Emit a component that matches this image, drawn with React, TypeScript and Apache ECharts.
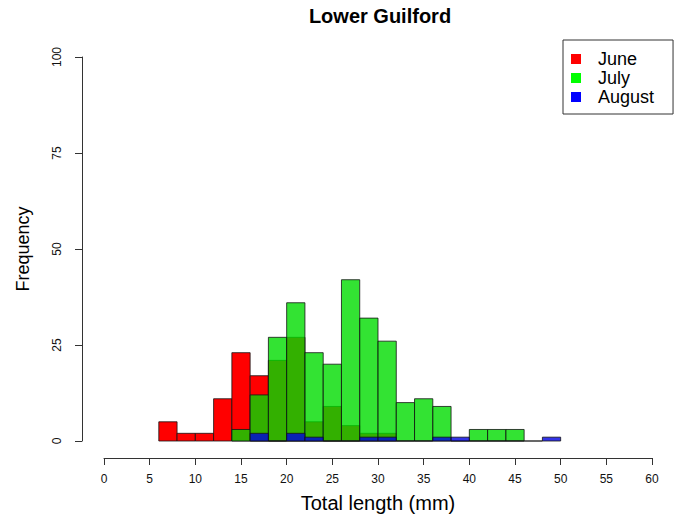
import React, { useEffect, useRef } from "react";
import * as echarts from "echarts";

const binStarts = [6, 8, 10, 12, 14, 16, 18, 20, 22, 24, 26, 28, 30, 32, 34, 36, 38, 40, 42, 44, 46, 48];
const binWidth = 2;
const juneCounts = [5, 2, 2, 11, 23, 17, 21, 27, 5, 9, 4, 2, 2, null, null, null, null, null, null, null, null, null];
const julyCounts = [null, null, null, null, 3, 12, 27, 36, 23, 20, 42, 32, 26, 10, 11, 9, 0, 3, 3, 3, null, null];
const augustCounts = [null, null, null, null, null, 2, 0, 2, 1, 0, 0, 1, 1, 0, 0, 1, 1, 0, 0, 0, 0, 1];
const xTicks = [0, 5, 10, 15, 20, 25, 30, 35, 40, 45, 50, 55, 60];
const yTicks = [0, 25, 50, 75, 100];

const FONT = "Arial, 'Liberation Sans', Helvetica, sans-serif";

function histData(counts: (number | null)[]) {
  const out: number[][] = [];
  counts.forEach((c, i) => {
    if (c !== null) out.push([binStarts[i], binStarts[i] + binWidth, c]);
  });
  return out;
}

function makeSeries(name: string, counts: (number | null)[], fill: string) {
  return {
    name,
    type: "custom",
    data: histData(counts),
    encode: { x: [0, 1], y: 2 },
    itemStyle: { color: fill },
    renderItem: (params: any, api: any) => {
      const x0 = api.value(0);
      const x1 = api.value(1);
      const y = api.value(2);
      const p0 = api.coord([x0, y]);
      const p1 = api.coord([x1, 0]);
      return {
        type: "rect",
        shape: { x: p0[0], y: p0[1], width: p1[0] - p0[0], height: p1[1] - p0[1] },
        style: { fill, stroke: "rgba(20,20,20,0.8)", lineWidth: 1 },
      };
    },
  };
}

export default function App() {
  const ref = useRef<HTMLDivElement>(null);
  useEffect(() => {
    document.body.style.margin = "0";
    if (!ref.current) return;
    const chart = echarts.init(ref.current, null, { renderer: "svg" });
    chart.setOption({
      animation: false,
      backgroundColor: "#fff",
      title: {
        text: "Lower Guilford",
        left: 375,
        textAlign: "center",
        top: 1,
        textStyle: { fontFamily: FONT, fontWeight: "bold", fontSize: 20, color: "#000" },
      },
      legend: {
        orient: "vertical",
        left: 563,
        top: 40,
        borderColor: "#333",
        borderWidth: 1,
        padding: [10, 19, 8, 8],
        itemGap: 1,
        itemWidth: 10,
        itemHeight: 10,
        icon: "rect",
        textStyle: { fontFamily: FONT, fontSize: 18, lineHeight: 18, color: "#000", padding: [0, 0, 0, 12] },
        data: [
          { name: "June", itemStyle: { color: "#ff0000", borderWidth: 0 } },
          { name: "July", itemStyle: { color: "#00ff00", borderWidth: 0 } },
          { name: "August", itemStyle: { color: "#0000ff", borderWidth: 0 } },
        ],
      },
      grid: { left: 104, right: 23, top: 57, bottom: 69, containLabel: false },
      xAxis: {
        type: "value",
        min: 0,
        max: 60,
        interval: 5,
        offset: 17,
        name: "Total length (mm)",
        nameLocation: "middle",
        nameGap: 35,
        nameTextStyle: { fontFamily: FONT, fontSize: 20, color: "#000" },
        axisLine: { show: true, onZero: false, lineStyle: { color: "#333", width: 1 } },
        axisTick: { show: true, length: 7, lineStyle: { color: "#333" } },
        axisLabel: {
          fontFamily: FONT,
          fontSize: 12,
          color: "#111",
          margin: 15,
          formatter: (v: number) => (xTicks.includes(v) ? String(v) : ""),
        },
        splitLine: { show: false },
      },
      yAxis: {
        type: "value",
        min: 0,
        max: 100,
        interval: 25,
        offset: 22,
        name: "Frequency",
        nameLocation: "middle",
        nameGap: 50,
        nameTextStyle: { fontFamily: FONT, fontSize: 18, color: "#000" },
        axisLine: { show: true, onZero: false, lineStyle: { color: "#333", width: 1 } },
        axisTick: { show: true, length: 7, lineStyle: { color: "#333" } },
        axisLabel: {
          fontFamily: FONT,
          fontSize: 12,
          color: "#111",
          rotate: 90,
          margin: 19,
          formatter: (v: number) => (yTicks.includes(v) ? String(v) : ""),
        },
        splitLine: { show: false },
      },
      series: [
        makeSeries("June", juneCounts, "rgb(255,0,0)"),
        makeSeries("July", julyCounts, "rgba(0,220,0,0.8)"),
        makeSeries("August", augustCounts, "rgba(0,0,225,0.8)"),
      ],
    });
    return () => chart.dispose();
  }, []);
  return <div ref={ref} style={{ width: 675, height: 518 }} />;
}
